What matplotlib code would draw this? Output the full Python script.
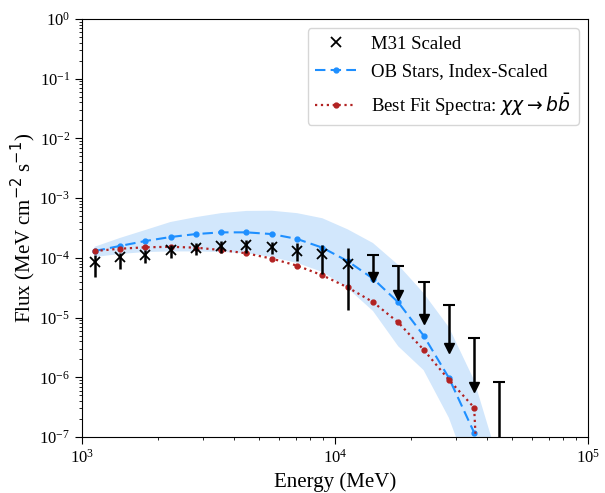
import numpy as np
import matplotlib
matplotlib.use('Agg')
import matplotlib.pyplot as plt

plt.rcParams['font.family'] = 'Liberation Serif'

# energy bins (MeV), log-spaced centres
energy = 10 ** np.array([3.05, 3.15, 3.25, 3.35, 3.45, 3.55, 3.65, 3.75, 3.85,
                         3.95, 4.05, 4.15, 4.25, 4.35, 4.45, 4.55, 4.65])

# M31 scaled detections (first 11 bins)
m31_flux = [8.6e-5, 1.02e-4, 1.11e-4, 1.35e-4, 1.48e-4, 1.58e-4, 1.64e-4,
            1.53e-4, 1.32e-4, 1.14e-4, 7.8e-5]
m31_hi = [1.11e-4, 1.19e-4, 1.35e-4, 1.64e-4, 1.79e-4, 1.89e-4, 1.99e-4,
          1.86e-4, 1.79e-4, 1.64e-4, 1.44e-4]
m31_lo = [4.7e-5, 6.5e-5, 8.3e-5, 9.8e-5, 1.11e-4, 1.19e-4, 1.22e-4,
          1.16e-4, 8.95e-5, 5.36e-5, 1.34e-5]

# upper limits (last 6 bins) and where the arrows end
m31_ul = [1.11e-4, 7.4e-5, 3.9e-5, 1.6e-5, 4.5e-6, 8.2e-7]
m31_ul_tip = [4.8e-5, 2.4e-5, 9.5e-6, 3.1e-6, 6.8e-7, 1e-8]

# OB stars, index-scaled model and its band
ob_flux = [1.30e-4, 1.58e-4, 1.91e-4, 2.23e-4, 2.50e-4, 2.67e-4, 2.67e-4,
           2.50e-4, 2.07e-4, 1.48e-4, 8.8e-5, 4.5e-5, 1.8e-5, 5.0e-6,
           9.8e-7, 1.18e-7, 1e-15]
ob_upper = [1.53e-4, 2.15e-4, 2.92e-4, 3.98e-4, 4.8e-4, 5.6e-4, 6.1e-4,
            6.15e-4, 5.6e-4, 4.6e-4, 3.0e-4, 1.77e-4, 7.6e-5, 2.57e-5,
            6.9e-6, 8.9e-7, 3.5e-8]
ob_lower = [1.03e-4, 1.16e-4, 1.25e-4, 1.28e-4, 1.28e-4, 1.25e-4, 1.2e-4,
            1.03e-4, 8.2e-5, 5.8e-5, 3.1e-5, 1.29e-5, 3.3e-6, 1.32e-6,
            2.1e-7, 1.5e-8, 1e-15]

# best fit dark matter spectrum
dm_flux = [1.30e-4, 1.42e-4, 1.50e-4, 1.53e-4, 1.48e-4, 1.35e-4, 1.19e-4,
           9.7e-5, 7.4e-5, 5.1e-5, 3.2e-5, 1.82e-5, 8.3e-6, 2.9e-6, 9.1e-7,
           3.1e-7, 1e-15]

n_det = len(m31_flux)
e_det = energy[:n_det]
e_ul = energy[n_det:]

fig = plt.figure(figsize=(6.05, 4.93), dpi=100)
ax = fig.add_axes([0.1355, 0.1136, 0.8364, 0.848])

ax.fill_between(energy, ob_lower, ob_upper, color='#d2e7fc', lw=0, zorder=1)

ax.plot(energy, ob_flux, '--', color='#1e8fff', lw=1.5, marker='o', ms=3.5,
        dashes=(5, 2.5), label='OB Stars, Index-Scaled', zorder=3)
ax.plot(energy, dm_flux, ':', color='#b22222', lw=1.6, marker='o', ms=3.5,
        label=r'Best Fit Spectra: $\chi\chi \rightarrow b\bar{b}$', zorder=3)

f = np.array(m31_flux)
ax.errorbar(e_det, f, yerr=[f - np.array(m31_lo), np.array(m31_hi) - f],
            fmt='none', ecolor='k', elinewidth=1.8, zorder=4)
ax.plot(e_det, f, 'kx', ms=7, mew=1.3, ls='none', label='M31 Scaled', zorder=5)

# upper limits: bar, cap and downward arrow
ax.vlines(e_ul, m31_ul_tip, m31_ul, color='k', lw=1.8, zorder=4)
ax.plot(e_ul, m31_ul, 'k_', ms=8, mew=1.5, ls='none', zorder=4)
ax.plot(e_ul, m31_ul_tip, 'kv', ms=6.5, ls='none', zorder=4)

ax.set_xscale('log')
ax.set_yscale('log')
ax.set_xlim(1e3, 1e5)
ax.set_ylim(1e-7, 1e0)
ax.tick_params(which='major', length=5, labelsize=12)
ax.tick_params(which='minor', length=2.5)

ax.set_xlabel('Energy (MeV)', fontsize=15)
ax.set_ylabel(r'Flux (MeV cm$^{-2}$ s$^{-1}$)', fontsize=15, labelpad=1)

handles, labels = ax.get_legend_handles_labels()
order = [2, 0, 1]
ax.legend([handles[i] for i in order], [labels[i] for i in order],
          loc='upper right', fontsize=13.5, labelspacing=0.55, handlelength=2.2,
          borderaxespad=0.5)

fig.savefig('out.png', dpi=100)
